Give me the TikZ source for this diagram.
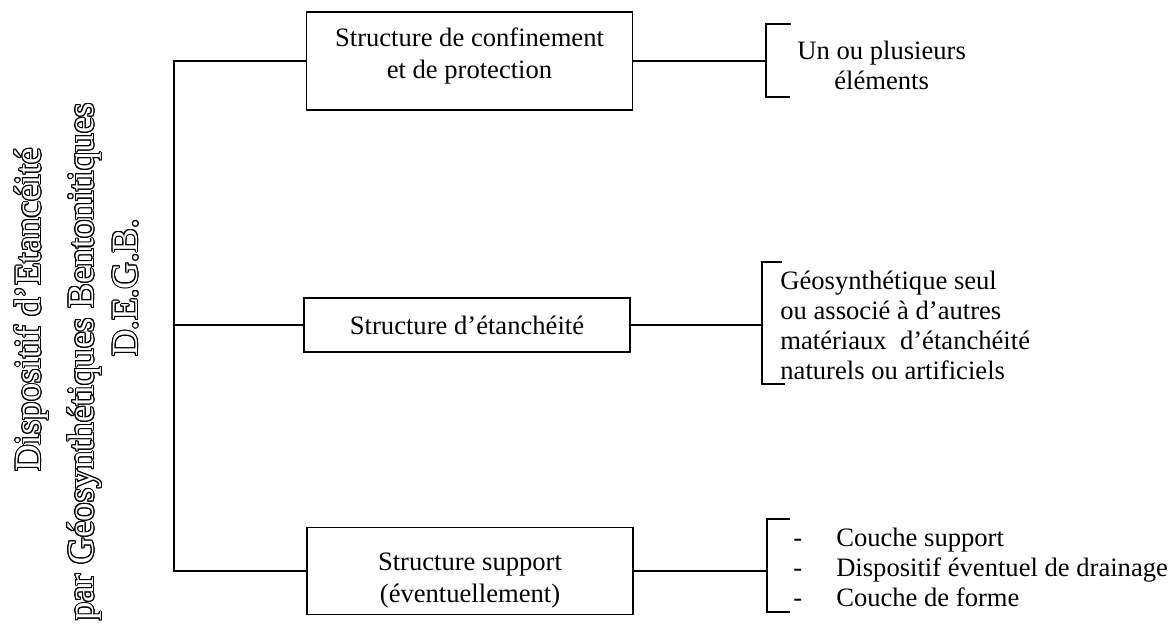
\documentclass[tikz,border=0pt]{standalone}
\usepackage{fontspec}
\setmainfont{Liberation Serif}
\usepackage{contour}
\usepackage{tikz}
\usetikzlibrary{positioning}
\contourlength{0.5pt}
\newcommand{\dashgap}{-\hspace{17pt}}
\tikzset{%
  struct_block/.style={%
    rectangle,%
    draw=black,%
    line width=0.8pt,%
    minimum width=163pt,%
    font={\fontsize{13.3}{16}\selectfont},%
    align=center%
  },
  link_path/.style={%
    color=black,%
    line width=0.8pt,%
    line join=miter,%
  },
  bracket_path/.style={%
    color=black,%
    line width=0.8pt,%
  },
  side_annotate/.style={%
    font={\fontsize{13.3}{15}\selectfont},%
    inner sep=0pt,%
    anchor=west,%
    align=left,%
  },
  title_text/.style={%
    rotate=90,%
    text=white,%
    font={\fontsize{18.5}{22}\selectfont},%
    inner sep=0pt,%
  },
}

\begin{document}
\begin{tikzpicture}[x=0.5pt, y=-0.5pt]
  \useasboundingbox (0,0) rectangle (1171,627);

  % the three structures
  \node [struct_block, minimum height=49pt, text depth=7.5pt] (Confinement) at (469.5,61)
    {Structure de confinement\\et de protection};
  \node [struct_block, minimum height=27pt] (Etancheite) at (467,325)
    {Structure d’étanchéité};
  \node [struct_block, minimum height=41pt] (Support) at (470,571)
    {\rule{0pt}{18pt}Structure support\\(éventuellement)};

  % title, written upwards
  \node [title_text] (TitleLine1) at (32,310) {\contour{black}{Dispositif d’Etancéité}};
  \node [title_text] (TitleLine2) at (85,362) {\contour{black}{par Géosynthétiques Bentonitiques}};
  \node [title_text] (TitleLine3) at (126,288) {\contour{black}{D.E.G.B.}};

  % trunk
  \coordinate (TrunkTop) at (174,61);
  \coordinate (TrunkBot) at (174,571);
  \draw [link_path] (Confinement.west) -- (TrunkTop) -- (TrunkBot) -- (Support.west);
  \draw [link_path] (Etancheite.west) -- (Etancheite.west -| TrunkTop);

  % brackets
  \coordinate (Br1) at (766,61);
  \coordinate (Br1T) at (766,24);
  \coordinate (Br1B) at (766,97);
  \coordinate (Br2) at (762,325);
  \coordinate (Br2T) at (762,262);
  \coordinate (Br2B) at (762,384);
  \coordinate (Br3) at (767,571);
  \coordinate (Br3T) at (767,519);
  \coordinate (Br3B) at (767,612);

  \draw [link_path] (Confinement.east) -- (Br1);
  \draw [link_path] (Etancheite.east) -- (Br2);
  \draw [link_path] (Support.east) -- (Br3);

  \draw [bracket_path] ([xshift=12.5pt]Br1T) -- (Br1T) -- (Br1B) -- ([xshift=12pt]Br1B);
  \draw [bracket_path] ([xshift=10pt]Br2T) -- (Br2T) -- (Br2B) -- ([xshift=11.5pt]Br2B);
  \draw [bracket_path] ([xshift=11.5pt]Br3T) -- (Br3T) -- (Br3B) -- ([xshift=11.5pt]Br3B);

  % contents
  \node [side_annotate, align=center, right=15.5pt of Br1, yshift=-2pt] (Elements)
    {Un ou plusieurs\\éléments};
  \node [side_annotate, right=9pt of Br2] (Geosynth)
    {Géosynthétique seul\\ou associé à d’autres\\matériaux\ \ d’étanchéité\\naturels ou artificiels};
  \node [side_annotate, right=13pt of Br3, yshift=2pt] (Couches)
    {\dashgap Couche support\\\dashgap Dispositif éventuel de drainage\\\dashgap Couche de forme};
\end{tikzpicture}
\end{document}
